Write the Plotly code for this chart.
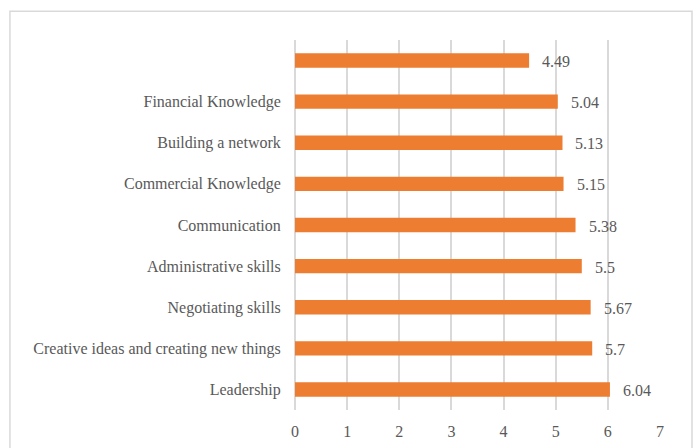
import plotly.graph_objects as go

# Skill categories, listed bottom to top
categories = [
    "Leadership",
    "Creative ideas and creating new things",
    "Negotiating skills",
    "Administrative skills",
    "Communication",
    "Commercial Knowledge",
    "Building a network",
    "Financial Knowledge",
    " ",
]
scores = [6.04, 5.7, 5.67, 5.5, 5.38, 5.15, 5.13, 5.04, 4.49]
score_labels = ["6.04", "5.7", "5.67", "5.5", "5.38", "5.15", "5.13", "5.04", "4.49"]
x_ticks = [0, 1, 2, 3, 4, 5, 6, 7]

FONT = "Liberation Serif, Times New Roman, serif"
TEXT = "#595959"
SIZE = 16

fig = go.Figure(
    go.Bar(
        x=scores,
        y=categories,
        orientation="h",
        marker=dict(color="#ED7D31", line=dict(width=0)),
        width=0.35,
        hoverinfo="x+y",
    )
)

for cat, val, lab in zip(categories, scores, score_labels):
    fig.add_annotation(
        x=val, y=cat, text=lab, showarrow=False,
        xanchor="left", yanchor="middle", xshift=11, yshift=-1,
        font=dict(family=FONT, size=SIZE, color=TEXT),
    )

# Outer chart-area frame
fig.add_shape(
    type="rect", xref="paper", yref="paper",
    x0=-0.781, x1=1.0877, y0=-0.12, y1=1.078,
    line=dict(color="#d9d9d9", width=1.5), fillcolor="rgba(0,0,0,0)",
    layer="below",
)

fig.update_layout(
    width=697, height=448,
    margin=dict(l=295, r=37, t=40, b=38),
    paper_bgcolor="white", plot_bgcolor="white",
    showlegend=False,
    font=dict(family=FONT, size=SIZE, color=TEXT),
)
fig.update_xaxes(
    range=[0, 7], tickvals=x_ticks, ticktext=[str(t) for t in x_ticks],
    showgrid=True, gridcolor="#d9d9d9", gridwidth=1.5,
    zeroline=True, zerolinecolor="#d9d9d9", zerolinewidth=1.5,
    showline=False, ticks="outside", ticklen=7, tickcolor="rgba(0,0,0,0)",
    tickfont=dict(family=FONT, size=SIZE, color=TEXT),
    automargin=False, fixedrange=True,
)
fig.update_yaxes(
    categoryorder="array", categoryarray=categories,
    range=[-0.5, len(categories) - 0.5],
    showgrid=False, showline=False, zeroline=False,
    ticks="outside", ticklen=10, tickcolor="rgba(0,0,0,0)",
    tickfont=dict(family=FONT, size=SIZE, color=TEXT),
    automargin=False, fixedrange=True,
)

fig.write_html("out.html")
